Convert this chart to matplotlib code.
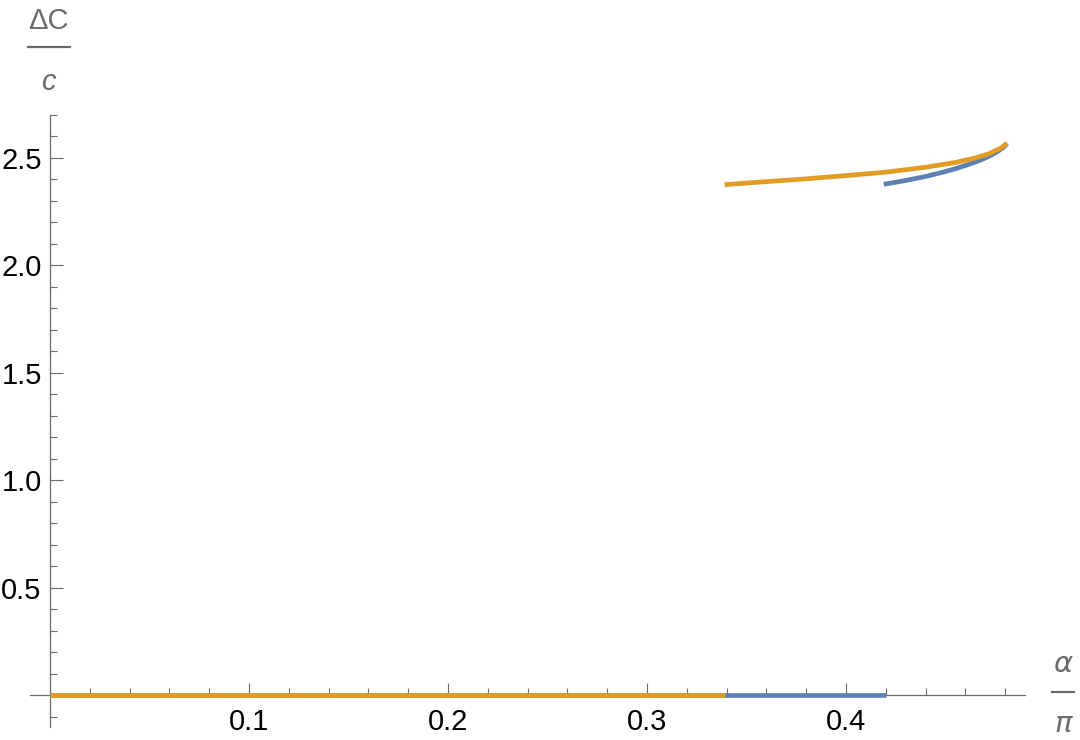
"""Delta C / c against alpha / pi, two branches (Mathematica-style axes)."""

import matplotlib

matplotlib.use("Agg")
import matplotlib.pyplot as plt
from matplotlib.lines import Line2D
from matplotlib.ticker import MultipleLocator

plt.rcParams["font.family"] = ["Liberation Sans", "DejaVu Sans"]

# branch values
blue_upper_x = [0.419, 0.425, 0.432, 0.44, 0.448, 0.455, 0.461, 0.467, 0.472, 0.476, 0.479, 0.481]
blue_upper_y = [2.376, 2.385, 2.397, 2.412, 2.430, 2.448, 2.466, 2.486, 2.506, 2.527, 2.546, 2.565]
orange_upper_x = [0.339, 0.36, 0.38, 0.40, 0.42, 0.44, 0.455, 0.465, 0.472, 0.478, 0.481]
orange_upper_y = [2.374, 2.388, 2.401, 2.416, 2.432, 2.455, 2.477, 2.498, 2.518, 2.545, 2.567]
blue_zero_x = [0.0, 0.42]
blue_zero_y = [0.0, 0.0]
orange_zero_x = [0.0, 0.339]
orange_zero_y = [0.0, 0.0]

x_ticks = [0.1, 0.2, 0.3, 0.4]
x_tick_labels = ["0.1", "0.2", "0.3", "0.4"]
y_ticks = [0.5, 1.0, 1.5, 2.0, 2.5]
y_tick_labels = ["0.5", "1.0", "1.5", "2.0", "2.5"]

BLUE = "#5E81B5"
ORANGE = "#E19C24"
AXIS = "#6b6b6b"

fig = plt.figure(figsize=(10.8, 7.4), dpi=100)
ax = fig.add_axes([0.0279, 0.0172, 0.9212, 0.8280])

lw = 3.4
ax.plot(blue_zero_x, blue_zero_y, color=BLUE, lw=lw, solid_capstyle="butt", zorder=3)
ax.plot(orange_zero_x, orange_zero_y, color=ORANGE, lw=lw, solid_capstyle="butt", zorder=4)
ax.plot(blue_upper_x, blue_upper_y, color=BLUE, lw=lw, solid_capstyle="butt", zorder=3)
ax.plot(orange_upper_x, orange_upper_y, color=ORANGE, lw=lw, solid_capstyle="butt", zorder=4)

ax.set_xlim(-0.01, 0.49)
ax.set_ylim(-0.15, 2.7)

for side in ("top", "right"):
    ax.spines[side].set_visible(False)
ax.spines["left"].set_position(("data", 0))
ax.spines["bottom"].set_position(("data", 0))
for side in ("left", "bottom"):
    ax.spines[side].set_color(AXIS)
    ax.spines[side].set_linewidth(0.9)

ax.set_xticks(x_ticks)
ax.set_xticklabels(x_tick_labels)
ax.set_yticks(y_ticks)
ax.set_yticklabels(y_tick_labels)
ax.xaxis.set_minor_locator(MultipleLocator(0.02))
ax.yaxis.set_minor_locator(MultipleLocator(0.1))

ax.tick_params(axis="both", which="both", direction="in", color=AXIS, width=0.8,
               labelsize=21, labelcolor="black")
ax.tick_params(axis="both", which="major", length=9)
ax.tick_params(axis="both", which="minor", length=4.8)
ax.tick_params(axis="x", which="major", pad=9)
ax.tick_params(axis="y", which="major", pad=6)

# axis labels drawn as stacked fractions
fig.text(48 / 1080, 1 - 21 / 740, "ΔC", color=AXIS, fontsize=21, ha="center", va="center")
fig.add_artist(Line2D([28 / 1080, 70 / 1080], [1 - 47 / 740, 1 - 47 / 740],
                      transform=fig.transFigure, color=AXIS, lw=1.6))
fig.text(48 / 1080, 1 - 82 / 740, "c", color=AXIS, fontsize=21, style="italic",
         ha="center", va="center")

fig.text(1063 / 1080, 1 - 664 / 740, "α", color=AXIS, fontsize=21, style="italic",
         ha="center", va="center", family=["DejaVu Sans"])
fig.add_artist(Line2D([1052 / 1080, 1074 / 1080], [1 - 692 / 740, 1 - 692 / 740],
                      transform=fig.transFigure, color=AXIS, lw=1.6))
fig.text(1063 / 1080, 1 - 724 / 740, "π", color=AXIS, fontsize=21, style="italic",
         ha="center", va="center", family=["DejaVu Sans"])

fig.savefig("out.png", dpi=100)
plt.close(fig)
